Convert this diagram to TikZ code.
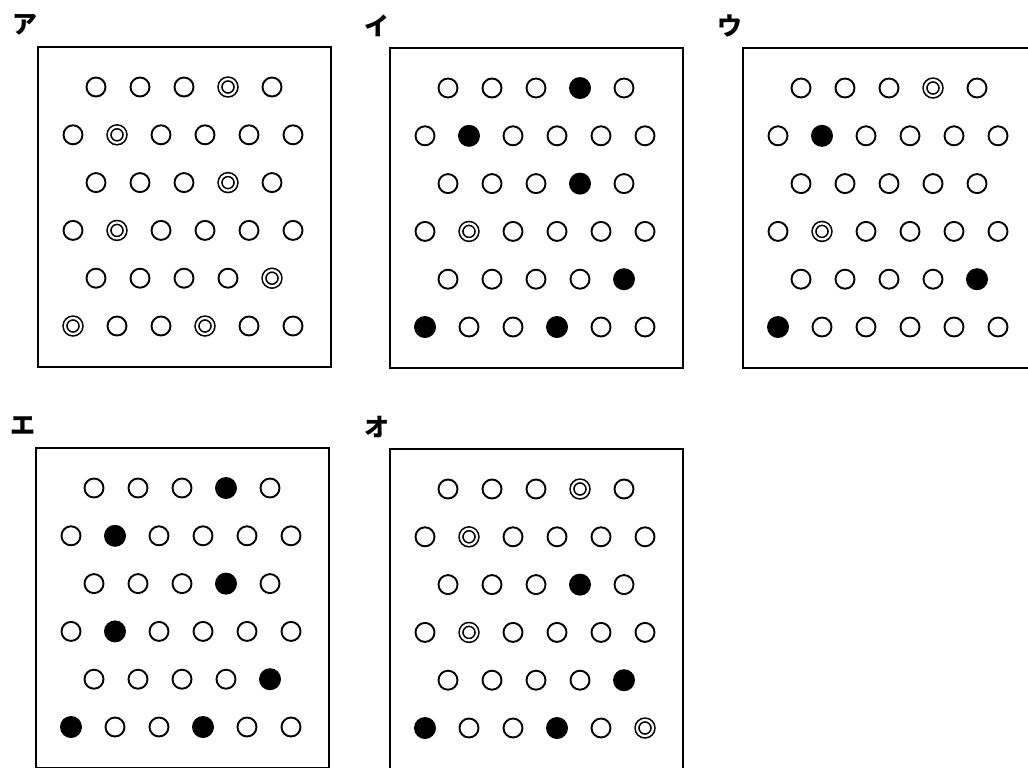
\documentclass[tikz,border=0pt]{standalone}
\usepackage{fontspec}
\newfontfamily\jpfont{Noto Sans CJK JP}
\usetikzlibrary{positioning}

\tikzset{
  panelbox/.style={draw, line width=1.25pt},
  panellabel/.style={font=\jpfont\bfseries\fontsize{12.5pt}{12.5pt}\selectfont, inner sep=0pt},
  pego/.style={circle, draw, line width=0.95pt, inner sep=0pt, minimum size=9.5pt},
  pegf/.style={circle, fill=black, inner sep=0pt, minimum size=11pt},
  pegd/.style={circle, draw, double, double distance=1.1pt, line width=0.8pt, inner sep=0pt, minimum size=8pt}
}

% one panel: x, y of top left corner, label, name, rows
\newcommand{\pegpanel}[5]{%
  \draw[panelbox] (#1,#2) rectangle ++(293,320);
  \node[panellabel] (#4-label) at (#1-13,#2-22) {#3};
  \foreach \row [count=\r from 0] in {#5} {
    \pgfmathsetmacro{\xs}{#1+35+23*(1-mod(\r,2))}
    \foreach \c [count=\i from 0] in \row
      \node[peg\c] (#4-\r-\i) at (\xs+44*\i, #2+40+47.8*\r) {};
  }
}

\begin{document}
\begin{tikzpicture}[x=0.5pt, y=-0.5pt]
  \clip (0,0) rectangle (1028,767);

  \pegpanel{38}{47}{ア}{a}{{o,o,o,d,o},{o,d,o,o,o,o},{o,o,o,d,o},{o,d,o,o,o,o},{o,o,o,o,d},{d,o,o,d,o,o}}
  \pegpanel{390}{48}{イ}{i}{{o,o,o,f,o},{o,f,o,o,o,o},{o,o,o,f,o},{o,d,o,o,o,o},{o,o,o,o,f},{f,o,o,f,o,o}}
  \pegpanel{743}{48}{ウ}{u}{{o,o,o,d,o},{o,f,o,o,o,o},{o,o,o,o,o},{o,d,o,o,o,o},{o,o,o,o,f},{f,o,o,o,o,o}}

  \pegpanel{36}{448}{エ}{e}{{o,o,o,f,o},{o,f,o,o,o,o},{o,o,o,f,o},{o,f,o,o,o,o},{o,o,o,o,f},{f,o,o,f,o,o}}
  \pegpanel{390}{449}{オ}{o}{{o,o,o,d,o},{o,d,o,o,o,o},{o,o,o,f,o},{o,d,o,o,o,o},{o,o,o,o,f},{f,o,o,f,o,d}}
\end{tikzpicture}
\end{document}
